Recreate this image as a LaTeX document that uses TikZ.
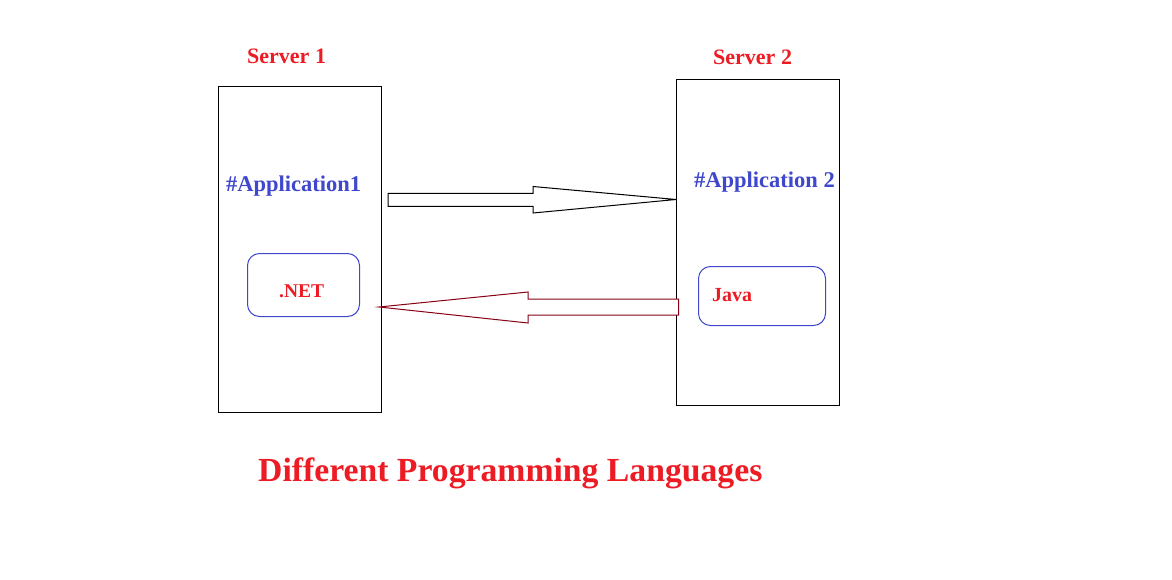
\documentclass[tikz,border=0pt]{standalone}
\usepackage{fontspec}
\setmainfont{Liberation Serif}
\definecolor{tred}{RGB}{237,28,36}
\definecolor{tblue}{RGB}{63,72,204}
\definecolor{tdark}{RGB}{136,0,21}
\begin{document}
\begin{tikzpicture}[x=1pt,y=-1pt,
  server/.style={draw=black,line width=1.2pt,minimum width=163pt,minimum height=326pt,anchor=north west,inner sep=0pt},
  langbox/.style={draw=tblue,line width=1pt,rounded corners=12pt,anchor=north west,inner sep=0pt},
  lbl/.style={anchor=base west,inner sep=0pt,font=\bfseries},
  blockarrow/.style={line width=1pt,fill=white}]
\useasboundingbox (0,0) rectangle (1172,580);
\fill[white] (0,0) rectangle (1172,580);
\node[server] (s1) at (218,86) {};
\node[server] (s2) at (676,79) {};
\node[lbl,text=tred,font=\bfseries\fontsize{22}{24}\selectfont] (t1) at (247,64) {Server 1};
\node[lbl,text=tred,font=\bfseries\fontsize{22}{24}\selectfont] (t2) at (713,65) {Server 2};
\node[lbl,text=tblue,font=\bfseries\fontsize{22.5}{24}\selectfont] (a1) at (226,192) {\#Application1};
\node[lbl,text=tblue,font=\bfseries\fontsize{22.5}{24}\selectfont] (a2) at (694,188) {\#Application 2};
\node[langbox,minimum width=112pt,minimum height=63pt] (net) at (247,253) {};
\node[langbox,minimum width=127pt,minimum height=59pt] (java) at (698,266) {};
\node[lbl,text=tred,font=\bfseries\fontsize{19.5}{22}\selectfont] (netl) at (279,297) {.NET};
\node[lbl,text=tred,font=\bfseries\fontsize{20}{22}\selectfont] (javal) at (712,301) {Java};
\node[lbl,text=tred,font=\bfseries\fontsize{33.7}{36}\selectfont] (title) at (258,481) {Different Programming Languages};
% arrow from Server 1 to Server 2
\coordinate (tipA) at (s2.west |- 0,199.5);
\draw[blockarrow,draw=black] (388,193.5) -- (533,193.5) -- (533,186.5) -- (tipA) -- (533,213) -- (533,206.5) -- (388,206.5) -- cycle;
% arrow from Server 2 to Server 1
\coordinate (tipB) at (379,307);
\draw[blockarrow,draw=tdark] (678.5,299) -- (528,299) -- (528,292) -- (tipB) -- (528,323) -- (528,315) -- (678.5,315) -- cycle;
\end{tikzpicture}
\end{document}
